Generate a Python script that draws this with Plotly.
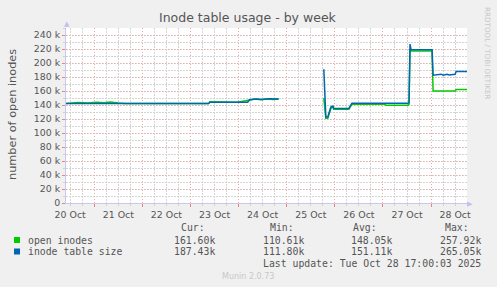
import plotly.graph_objects as go

# ---------------- data ----------------
open_times = [
    "2025-10-20 09:55", "2025-10-20 16:00", "2025-10-20 21:00", "2025-10-21 01:00",
    "2025-10-21 05:00", "2025-10-21 08:00", "2025-10-21 12:00", "2025-10-21 15:30",
    "2025-10-23 09:00", "2025-10-23 09:40", "2025-10-23 23:30", "2025-10-24 05:00",
    "2025-10-24 08:00", "2025-10-24 11:00", "2025-10-24 14:00", "2025-10-24 17:00",
    "2025-10-24 20:00",
    "2025-10-24 20:30",
    "2025-10-25 18:30", "2025-10-25 19:30", "2025-10-25 20:30", "2025-10-25 21:00",
    "2025-10-25 22:00", "2025-10-25 23:00", "2025-10-25 23:30", "2025-10-26 07:00",
    "2025-10-26 08:00", "2025-10-26 08:30", "2025-10-27 01:00", "2025-10-27 01:30",
    "2025-10-27 12:30", "2025-10-27 13:00", "2025-10-27 13:30", "2025-10-27 14:00",
    "2025-10-28 00:30", "2025-10-28 01:00", "2025-10-28 12:00", "2025-10-28 12:30",
    "2025-10-28 17:55",
]
open_vals = [
    142.0, 143.5, 143.0, 144.0,
    143.2, 144.2, 143.0, 142.2,
    142.0, 144.5, 144.0, 147.5,
    148.5, 147.5, 148.8, 147.8,
    148.5,
    None,
    150.0, 121.0, 121.0, 126.0,
    135.0, 137.0, 134.0, 134.0,
    140.0, 141.0, 141.0, 139.5,
    139.5, 141.0, 220.0, 217.0,
    217.0, 160.0, 160.0, 162.0,
    162.0,
]

size_times = [
    "2025-10-20 09:55", "2025-10-23 09:00", "2025-10-23 09:40", "2025-10-24 04:30",
    "2025-10-24 05:30", "2025-10-24 09:00", "2025-10-24 12:00", "2025-10-24 15:00",
    "2025-10-24 20:00",
    "2025-10-24 20:30",
    "2025-10-25 18:30", "2025-10-25 19:30", "2025-10-25 20:30", "2025-10-25 21:00",
    "2025-10-25 22:00", "2025-10-25 23:00", "2025-10-25 23:30", "2025-10-26 07:00",
    "2025-10-26 08:00", "2025-10-26 08:30", "2025-10-27 12:30", "2025-10-27 13:00",
    "2025-10-27 13:30", "2025-10-27 14:00", "2025-10-28 00:30", "2025-10-28 01:00",
    "2025-10-28 05:00", "2025-10-28 06:00", "2025-10-28 08:00", "2025-10-28 09:00",
    "2025-10-28 12:00", "2025-10-28 12:30", "2025-10-28 17:55",
]
size_vals = [
    142.0, 142.0, 144.0, 144.0,
    147.5, 148.5, 148.0, 148.8,
    148.5,
    None,
    191.0, 123.0, 123.0, 128.0,
    137.0, 138.5, 135.0, 135.0,
    141.0, 142.5, 142.5, 143.5,
    227.0, 219.0, 219.0, 182.5,
    184.0, 182.5, 184.0, 183.0,
    184.0, 188.0, 188.0,
]

series_names = ["open inodes", "inode table size"]
series_colors = ["#00cc00", "#0066b3"]
cur_vals = ["161.60k", "187.43k"]
min_vals = ["110.61k", "111.80k"]
avg_vals = ["148.05k", "151.11k"]
max_vals = ["257.92k", "265.05k"]

y_tick_vals = [0, 20000, 40000, 60000, 80000, 100000, 120000, 140000,
               160000, 180000, 200000, 220000, 240000]
y_tick_text = ["0", "20 k", "40 k", "60 k", "80 k", "100 k", "120 k", "140 k",
               "160 k", "180 k", "200 k", "220 k", "240 k"]

x_range = ["2025-10-20 09:55", "2025-10-28 17:55"]
y_range = [0, 250000]

title_text = "Inode table usage - by week"
y_title = "number of open inodes"
last_update = "Last update: Tue Oct 28 17:00:03 2025"

# ---------------- figure ----------------
W, H = 497, 287
L, R, T, B = 66, 30, 28, 84
PW, PH = W - L - R, H - T - B


def px(x):
    return (x - L) / PW


def py(y):
    return (H - B - y) / PH


fig = go.Figure()
fig.add_trace(go.Scatter(
    x=open_times, y=[v * 1000 if v is not None else None for v in open_vals],
    mode="lines", line=dict(color=series_colors[0], width=1.5),
    connectgaps=False, name=series_names[0], hoverinfo="skip"))
fig.add_trace(go.Scatter(
    x=size_times, y=[v * 1000 if v is not None else None for v in size_vals],
    mode="lines", line=dict(color=series_colors[1], width=1.5),
    connectgaps=False, name=series_names[1], hoverinfo="skip"))

tick_font = dict(family="DejaVu Sans", size=9.4, color="#555555")
axis_line = "#c8c8f0"

fig.update_xaxes(
    type="date", range=x_range,
    tick0="2025-10-20", dtick=86400000, ticklabelmode="period",
    tickformat="%d %b", tickfont=tick_font,
    showgrid=True, gridcolor="#eeaaaa", griddash="1px,2px", gridwidth=1,
    ticks="outside", ticklen=3, tickcolor="#f08080",
    minor=dict(dtick=21600000, tick0="2025-10-20", showgrid=True,
               gridcolor="#d4d4d4", griddash="2px,1px", ticks="outside",
               ticklen=2, tickcolor="#d0d0d0"),
    showline=True, linecolor=axis_line, linewidth=1, zeroline=False,
    fixedrange=True,
)
fig.update_yaxes(
    range=y_range, tickvals=y_tick_vals, ticktext=y_tick_text,
    tickfont=tick_font,
    showgrid=True, gridcolor="#eeaaaa", griddash="1px,2px", gridwidth=1,
    ticks="outside", ticklen=3, tickcolor="#f08080",
    minor=dict(dtick=10000, tick0=0, showgrid=True, gridcolor="#d4d4d4",
               griddash="2px,1px", ticks="outside", ticklen=2,
               tickcolor="#d0d0d0"),
    showline=True, linecolor=axis_line, linewidth=1, zeroline=False,
    fixedrange=True,
)

ann = []
# title
ann.append(dict(text=title_text, x=px(248), y=py(18), xref="paper", yref="paper",
                showarrow=False, xanchor="center", yanchor="middle",
                font=dict(family="DejaVu Sans", size=12.5, color="#555555")))
# y-axis title
ann.append(dict(text=y_title, x=px(12), y=py(115), xref="paper", yref="paper",
                showarrow=False, xanchor="center", yanchor="middle", textangle=-90,
                font=dict(family="DejaVu Sans", size=11.3, color="#555555")))
# rrdtool watermark
ann.append(dict(text="RRDTOOL / TOBI OETIKER", x=px(488), y=py(53), xref="paper",
                yref="paper", showarrow=False, xanchor="center", yanchor="middle",
                textangle=90,
                font=dict(family="DejaVu Sans", size=7.2, color="#c8c8c8")))
# axis arrows
ann.append(dict(text="▲", x=px(66.5), y=py(24), xref="paper", yref="paper",
                showarrow=False, xanchor="center", yanchor="middle",
                font=dict(family="DejaVu Sans", size=7, color="#c0c0f0")))
ann.append(dict(text="▶", x=px(470), y=py(203.5), xref="paper", yref="paper",
                showarrow=False, xanchor="center", yanchor="middle",
                font=dict(family="DejaVu Sans", size=7, color="#c0c0f0")))

mono = dict(family="DejaVu Sans Mono", size=9.8, color="#555555")
# legend header
for label, cx in [("Cur:", 193), ("Min:", 282), ("Avg:", 365), ("Max:", 457)]:
    ann.append(dict(text=label, x=px(cx), y=py(227.5), xref="paper", yref="paper",
                    showarrow=False, xanchor="center", yanchor="middle", font=mono))
row_y = [240, 251.5]
for i in range(2):
    ann.append(dict(text=series_names[i], x=px(26), y=py(row_y[i]), xref="paper",
                    yref="paper", showarrow=False, xanchor="left",
                    yanchor="middle", font=mono))
    for vals, rx in [(cur_vals, 217), (min_vals, 306), (avg_vals, 394),
                     (max_vals, 482.5)]:
        ann.append(dict(text=vals[i], x=px(rx), y=py(row_y[i]), xref="paper",
                        yref="paper", showarrow=False, xanchor="right",
                        yanchor="middle", font=mono))
ann.append(dict(text=last_update, x=px(482.5), y=py(263.5), xref="paper",
                yref="paper", showarrow=False, xanchor="right", yanchor="middle",
                font=mono))
ann.append(dict(text="Munin 2.0.73", x=px(248), y=py(276), xref="paper",
                yref="paper", showarrow=False, xanchor="center", yanchor="middle",
                font=dict(family="DejaVu Sans", size=8, color="#c8c8c8")))

shapes = []
for i in range(2):
    shapes.append(dict(type="rect", xref="paper", yref="paper",
                       x0=px(14), x1=px(20), y0=py(row_y[i] + 3), y1=py(row_y[i] - 3),
                       fillcolor=series_colors[i], line=dict(width=0)))

fig.update_layout(
    width=W, height=H,
    margin=dict(l=L, r=R, t=T, b=B, pad=0),
    paper_bgcolor="#f0f0f0", plot_bgcolor="#ffffff",
    showlegend=False, annotations=ann, shapes=shapes,
)

fig.write_html("out.html", config={"displayModeBar": False})
